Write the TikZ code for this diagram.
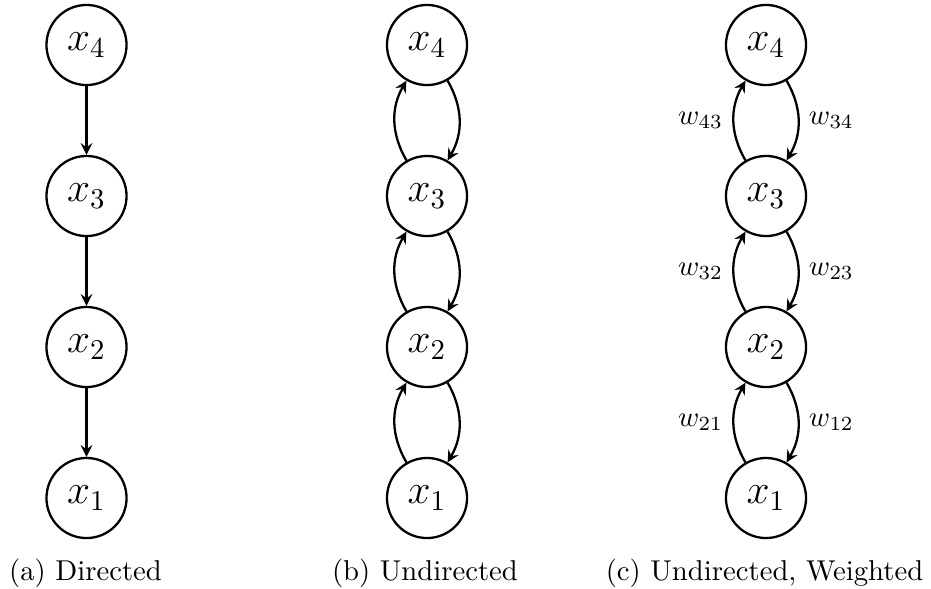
\documentclass[tikz,border=0pt]{standalone}
\usetikzlibrary{arrows}
\begin{document}
\begin{tikzpicture}[x=0.3484pt,y=-0.3484pt,
  vert/.style={circle,draw,thick,minimum size=27.9pt,inner sep=0pt,font=\Large},
  arr/.style={thick,-stealth},
  wlab/.style={},
  captext/.style={anchor=base,inner sep=0pt}]
\useasboundingbox (0,0) rectangle (931,588);
% (a)
\node[vert] (a4) at (86.5,45) {$x_4$};
\node[vert] (a3) at (86.5,196) {$x_3$};
\node[vert] (a2) at (86.5,347) {$x_2$};
\node[vert] (a1) at (86.5,498) {$x_1$};
\draw[arr] (a4) -- (a3);
\draw[arr] (a3) -- (a2);
\draw[arr] (a2) -- (a1);
% (b)
\node[vert] (b4) at (427,45) {$x_4$};
\node[vert] (b3) at (427,196) {$x_3$};
\node[vert] (b2) at (427,347) {$x_2$};
\node[vert] (b1) at (427,498) {$x_1$};
\draw[arr] (b3) to[bend left] (b4);
\draw[arr] (b4) to[bend left] (b3);
\draw[arr] (b2) to[bend left] (b3);
\draw[arr] (b3) to[bend left] (b2);
\draw[arr] (b1) to[bend left] (b2);
\draw[arr] (b2) to[bend left] (b1);
% (c)
\node[vert] (c4) at (766,45) {$x_4$};
\node[vert] (c3) at (766,196) {$x_3$};
\node[vert] (c2) at (766,347) {$x_2$};
\node[vert] (c1) at (766,498) {$x_1$};
\draw[arr] (c3) to[bend left] node[left,wlab] {$w_{43}$} (c4);
\draw[arr] (c4) to[bend left] node[right,wlab] {$w_{34}$} (c3);
\draw[arr] (c2) to[bend left] node[left,wlab] {$w_{32}$} (c3);
\draw[arr] (c3) to[bend left] node[right,wlab] {$w_{23}$} (c2);
\draw[arr] (c1) to[bend left] node[left,wlab] {$w_{21}$} (c2);
\draw[arr] (c2) to[bend left] node[right,wlab] {$w_{12}$} (c1);
% captions
\node[captext] (capa) at (85.5,580) {(a) Directed};
\node[captext] (capb) at (425,580) {(b) Undirected};
\node[captext] (capc) at (764.5,580) {(c) Undirected, Weighted};
\end{tikzpicture}
\end{document}
